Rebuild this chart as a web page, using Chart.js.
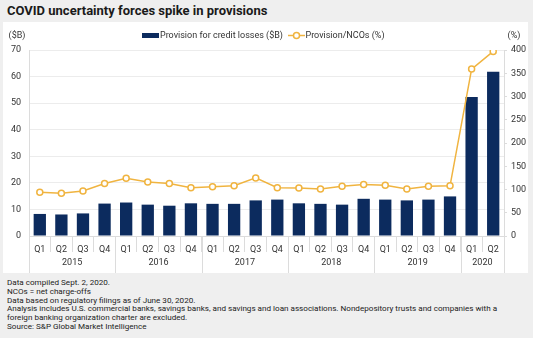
<!DOCTYPE html>
<html>
<head>
<meta charset="utf-8">
<script src="https://cdn.jsdelivr.net/npm/chart.js@4"></script>
<style>
  html, body { margin: 0; padding: 0; }
  body { width: 533px; height: 338px; background: #efefef; font-family: Roboto, "Liberation Sans", sans-serif; position: relative; overflow: hidden; }
  #title { position: absolute; left: 7px; top: 3px; font-size: 13px; font-weight: 700; color: #1a1a1a; white-space: nowrap; }
  #panel { position: absolute; left: 3px; top: 22px; width: 525px; height: 251px; background: #fff; }
  #notes { position: absolute; left: 7px; top: 278px; font-size: 8.1px; line-height: 8.8px; color: #222; white-space: nowrap; }
</style>
</head>
<body>
<div id="title">COVID uncertainty forces spike in provisions</div>
<div id="panel"><canvas id="chart" width="525" height="251"></canvas></div>
<div id="notes">
Data compiled Sept. 2, 2020.<br>
NCOs = net charge-offs<br>
Data based on regulatory filings as of June 30, 2020.<br>
Analysis includes U.S. commercial banks, savings banks, and savings and loan associations. Nondepository trusts and companies with a<br>
foreign banking organization charter are excluded.<br>
Source: S&amp;P Global Market Intelligence
</div>
<script>
// quarters and years
const quarters = ['Q1','Q2','Q3','Q4','Q1','Q2','Q3','Q4','Q1','Q2','Q3','Q4','Q1','Q2','Q3','Q4','Q1','Q2','Q3','Q4','Q1','Q2'];
const years = ['2015','2016','2017','2018','2019','2020'];
const quartersPerYear = [4, 4, 4, 4, 4, 2];

// Provision for credit losses ($B)
const provisions = [8.3, 8.1, 8.5, 12.2, 12.6, 11.8, 11.4, 12.3, 12.1, 12.1, 13.4, 13.7, 12.3, 12.1, 11.8, 14.0, 13.7, 13.4, 13.7, 14.9, 52.3, 61.8];
// Provision/NCOs (%)
const ratio = [94, 92, 97, 113, 124, 116, 113, 104, 106, 108, 125, 104, 103, 101, 107, 111, 109, 101, 107, 108, 359, 397];

const leftTicks = [0, 70, 10];
const rightTicks = [0, 400, 50];

const navy = '#0c2b5e';
const gold = '#f0b440';
const textColor = '#333';
const fontFamily = 'Roboto, "Liberation Sans", sans-serif';

function legendImage(kind) {
    const c = document.createElement('canvas');
    const g = c.getContext('2d');
    if (kind === 'bar') {
        c.width = 17; c.height = 5;
        g.fillStyle = navy;
        g.fillRect(0, 0, 17, 5);
    } else {
        c.width = 17; c.height = 9;
        g.strokeStyle = gold;
        g.lineWidth = 1.5;
        g.beginPath(); g.moveTo(0, 4.5); g.lineTo(17, 4.5); g.stroke();
        g.fillStyle = '#fff';
        g.beginPath(); g.arc(8.5, 4.5, 3, 0, Math.PI * 2); g.fill(); g.stroke();
    }
    return c;
}

// year labels + year separators under the quarter ticks
const yearPlugin = {
    id: 'years',
    afterDraw(chart) {
        const ctx = chart.ctx;
        const x = chart.scales.x;
        const area = chart.chartArea;
        const half = (x.getPixelForValue(1) - x.getPixelForValue(0)) / 2;
        ctx.save();
        ctx.strokeStyle = '#dcdcdc';
        ctx.lineWidth = 1;
        ctx.fillStyle = textColor;
        ctx.font = '9px ' + fontFamily;
        ctx.textAlign = 'center';
        ctx.textBaseline = 'middle';
        let i0 = 0;
        years.forEach((y, k) => {
            const i1 = i0 + quartersPerYear[k] - 1;
            const left = x.getPixelForValue(i0) - half;
            const right = x.getPixelForValue(i1) + half;
            [left, right].forEach(px => {
                ctx.beginPath();
                ctx.moveTo(Math.round(px) + 0.5, area.bottom);
                ctx.lineTo(Math.round(px) + 0.5, chart.height);
                ctx.stroke();
            });
            ctx.fillText(y, (left + right) / 2, area.bottom + 27);
            i0 = i1 + 1;
        });
        // axis unit labels
        ctx.fillText('($B)', 14, 14);
        ctx.fillText('(%)', 511, 14);
        ctx.restore();
    }
};

new Chart(document.getElementById('chart'), {
    data: {
        labels: quarters,
        datasets: [
            {
                type: 'line',
                label: 'Provision/NCOs (%)',
                data: ratio,
                yAxisID: 'y1',
                borderColor: gold,
                borderWidth: 1.5,
                pointRadius: 3,
                pointBorderWidth: 1.5,
                pointBackgroundColor: '#fff',
                pointBorderColor: gold,
                tension: 0,
                order: 0
            },
            {
                type: 'bar',
                label: 'Provision for credit losses ($B)',
                data: provisions,
                yAxisID: 'y',
                backgroundColor: navy,
                categoryPercentage: 1,
                barPercentage: 0.57,
                order: 1
            }
        ]
    },
    options: {
        responsive: false,
        animation: false,
        plugins: {
            legend: {
                position: 'top',
                reverse: true,
                labels: {
                    usePointStyle: true,
                    color: textColor,
                    font: { size: 9, family: fontFamily },
                    padding: 9,
                    generateLabels(chart) {
                        return chart.data.datasets.map((d, i) => ({
                            text: d.label,
                            pointStyle: legendImage(d.type),
                            fontColor: textColor,
                            datasetIndex: i,
                            hidden: false,
                            lineWidth: 0
                        }));
                    }
                }
            },
            tooltip: { enabled: false }
        },
        scales: {
            x: {
                grid: {
                    display: true,
                    drawOnChartArea: false,
                    drawTicks: true,
                    tickLength: 16,
                    color: '#dcdcdc',
                    offset: true
                },
                border: { color: '#dcdcdc' },
                ticks: {
                    color: textColor,
                    padding: -8,
                    maxRotation: 0,
                    autoSkip: false,
                    font: { size: 9, family: fontFamily }
                },
                afterFit(s) { s.height = 37; }
            },
            y: {
                position: 'left',
                min: leftTicks[0],
                max: leftTicks[1],
                ticks: {
                    stepSize: leftTicks[2],
                    color: textColor,
                    padding: 8,
                    font: { size: 9, family: fontFamily }
                },
                grid: { color: '#ececec', drawTicks: false },
                border: { color: '#dcdcdc' },
                afterFit(s) { s.width = 26; }
            },
            y1: {
                position: 'right',
                min: rightTicks[0],
                max: rightTicks[1],
                ticks: {
                    stepSize: rightTicks[2],
                    color: textColor,
                    padding: 4,
                    font: { size: 9, family: fontFamily }
                },
                grid: { drawOnChartArea: false, tickLength: 3, color: '#dcdcdc' },
                border: { color: '#dcdcdc' },
                afterFit(s) { s.width = 24; }
            }
        }
    },
    plugins: [yearPlugin]
});
</script>
</body>
</html>
